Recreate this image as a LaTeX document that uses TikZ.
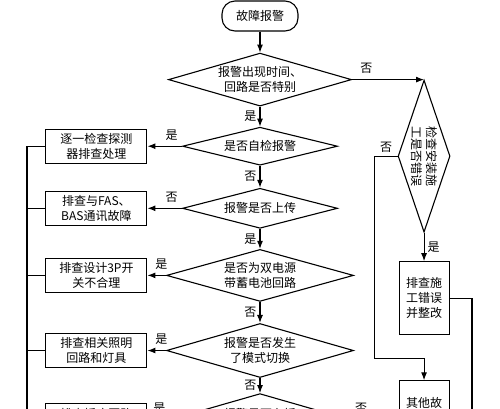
\documentclass[tikz,border=0pt]{standalone}
\usepackage{fontspec}
\newfontfamily\cjk{Noto Sans CJK SC}
\usepackage{tikz}
\usetikzlibrary{arrows.meta, positioning, shapes.geometric, graphs}
\tikzset{
node distance=20pt,
>={Latex[length=8pt,width=6pt]},
every node/.style={font=\cjk\fontsize{12}{15}\selectfont},
term/.style={%
    rectangle,
    rounded corners=13pt,
    minimum width=76pt,
    minimum height=30pt,
    draw=black,
},
check/.style 2 args={%
    diamond,
    aspect=3.5,
    inner sep=0pt,
    minimum width=#1,
    minimum height=#2,
    align=center,
    draw=black,
},
box/.style={%
    rectangle,
    inner sep=2pt,
    minimum width=101pt,
    minimum height=34pt,
    align=center,
    draw=black,
},
sidebox/.style={%
    box, minimum width=50pt, minimum height=73pt,
},
lbl/.style={inner sep=1pt},
ylab/.style={edge node={node[lbl,#1]{是}}},
nlab/.style={edge node={node[lbl,#1]{否}}},
}

\begin{document}
\begin{tikzpicture}[line width=1.1pt]
			\useasboundingbox (0,0) rectangle (500pt,-408pt);
			\node[term] (start) at (260pt,-16pt) {故障报警};
			\node[check={183pt}{53pt}, below=21pt of start] (q1) {报警出现时间、\\回路是否特别};
			\node[check={155pt}{38pt}, below=20pt of q1] (q2) {是否自检报警};
			\node[check={155pt}{40pt}, below=22pt of q2] (q3) {报警是否上传};
			\node[check={187pt}{52pt}, below=20pt of q3] (q4) {是否为双电源\\带蓄电池回路};
			\node[check={187pt}{54pt}, below=21pt of q4] (q5) {报警是否发生\\了模式切换};
			\node[check={187pt}{54pt}, below=15pt of q5] (q6) {报警是否有插\\~};
			\node[box, left=34.5pt of q2] (b1) {逐一检查探测\\器排查处理};
			\node[box, left=34.5pt of q3] (b2) {排查与FAS、\\BAS通讯故障};
			\node[box, left=18.5pt of q4] (b3) {排查设计3P开\\关不合理};
			\node[box, left=18.5pt of q5] (b4) {排查相关照明\\回路和灯具};
			\node[box, left=18.5pt of q6] (b5) {排查插座回路\\~};
			% right branch
			\node[check={52pt}{152pt}, right=72pt of q1.east, anchor=north] (q7) {};
			\node[rotate=-90, align=center] (q7txt) at (q7) {检查安装施\\工是否错误};
			\node[sidebox, below=28.5pt of q7] (b6) {排查施\\工错误\\并整改};
			\node[sidebox, below=45pt of b6] (b7) {其他故\\~\\~};
			\coordinate (lend) at (27pt,-430pt);
			\coordinate (rend) at (472pt,-430pt);

			\graph [use existing nodes] {
				start -> q1 ->[ylab={left=2pt}] q2 ->[nlab={left=2pt}] q3 ->[ylab={left=2pt}] q4
					->[nlab={left=2pt}] q5 ->[nlab={left=2pt}] q6;
				q2 ->[ylab={above=4pt, pos=.3}] b1;
				q3 ->[nlab={above=4pt, pos=.3}] b2;
				q4 ->[ylab={above=4pt, pos=.25}] b3;
				q5 ->[ylab={above=4pt, pos=.25}] b4;
				q6 ->[ylab={above=6pt, pos=.35}] b5;
				q7 ->[ylab={right=2pt}] b6;
			};
			\draw[->] (q1.east) -- node[lbl, above=5pt, pos=.2] {否} (q7.north);
			\draw[->] (q7.west) -- node[lbl, above=2pt] {否} ++(-23pt,0) |- ([yshift=22pt]b7.north) -- (b7.north);
			\draw (b6.east) -| (rend);
			\draw (q6.east) -- node[lbl, above=6pt, pos=.06] {否} (q6.east -| rend);
			\draw (b1.west) -| (lend);
			\foreach \b in {b2,b3,b4,b5}
				\draw (\b.west) -- (\b.west -| lend);
		\end{tikzpicture}
\end{document}
